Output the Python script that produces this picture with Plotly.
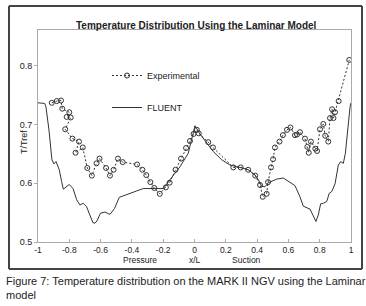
import plotly.graph_objects as go

# Experimental data (x/L, T/Tref)
exp_x = [-0.912, -0.880, -0.853, -0.845, -0.800, -0.817, -0.791, -0.826, -0.780, -0.738,
         -0.760, -0.714, -0.685, -0.656, -0.626, -0.607, -0.565, -0.540, -0.517, -0.489,
         -0.459, -0.367, -0.333, -0.308, -0.282, -0.257, -0.222, -0.183, -0.159, -0.121,
         -0.086, -0.054, -0.029, -0.006, 0.015, 0.027, 0.088, 0.118, 0.248, 0.295,
         0.343, 0.388, 0.419, 0.436, 0.461, 0.470, 0.489, 0.502, 0.514, 0.543,
         0.565, 0.591, 0.613, 0.642, 0.655, 0.674, 0.706, 0.721, 0.730, 0.744,
         0.772, 0.783, 0.802, 0.823, 0.835, 0.855, 0.866, 0.879, 0.888, 0.898,
         0.921, 0.989]
exp_y = [0.737, 0.740, 0.741, 0.727, 0.721, 0.713, 0.712, 0.692, 0.676, 0.671,
         0.652, 0.661, 0.626, 0.613, 0.634, 0.642, 0.626, 0.613, 0.623, 0.642,
         0.636, 0.632, 0.623, 0.614, 0.602, 0.592, 0.582, 0.593, 0.601, 0.623,
         0.642, 0.660, 0.672, 0.684, 0.691, 0.685, 0.670, 0.661, 0.627, 0.627,
         0.623, 0.613, 0.597, 0.577, 0.582, 0.602, 0.627, 0.641, 0.661, 0.671,
         0.682, 0.691, 0.695, 0.682, 0.683, 0.687, 0.676, 0.662, 0.652, 0.671,
         0.659, 0.655, 0.692, 0.701, 0.681, 0.671, 0.711, 0.726, 0.711, 0.721,
         0.740, 0.810]

# FLUENT prediction
fl_x = [-1.000, -0.957, -0.949, -0.930, -0.911, -0.898, -0.885, -0.864, -0.849, -0.838,
        -0.800, -0.776, -0.753, -0.732, -0.711, -0.689, -0.672, -0.649, -0.636, -0.623,
        -0.601, -0.572, -0.540, -0.511, -0.481, -0.444, -0.412, -0.369, -0.327, -0.273,
        -0.220, -0.199, -0.157, -0.093, -0.040, 0.003, 0.035, 0.078, 0.120, 0.174,
        0.227, 0.291, 0.344, 0.387, 0.408, 0.429, 0.450, 0.472, 0.525, 0.567,
        0.599, 0.642, 0.674, 0.695, 0.738, 0.764, 0.776, 0.791, 0.806, 0.823,
        0.845, 0.861, 0.877, 0.898, 0.919, 0.934, 0.951, 0.964, 0.981, 0.994, 1.000]
fl_y = [0.737, 0.736, 0.730, 0.691, 0.640, 0.633, 0.637, 0.623, 0.603, 0.590,
        0.598, 0.591, 0.572, 0.563, 0.566, 0.560, 0.548, 0.533, 0.532, 0.536,
        0.549, 0.551, 0.547, 0.557, 0.576, 0.580, 0.583, 0.587, 0.591, 0.591,
        0.590, 0.591, 0.606, 0.628, 0.651, 0.698, 0.684, 0.668, 0.654, 0.640,
        0.631, 0.627, 0.623, 0.614, 0.606, 0.595, 0.594, 0.601, 0.607, 0.609,
        0.604, 0.596, 0.577, 0.561, 0.556, 0.543, 0.535, 0.546, 0.565, 0.566,
        0.569, 0.583, 0.586, 0.599, 0.631, 0.637, 0.634, 0.651, 0.702, 0.730, 0.737]

x_ticks = [-1, -0.8, -0.6, -0.4, -0.2, 0, 0.2, 0.4, 0.6, 0.8, 1]
x_tick_text = ["-1", "-0.8", "-0.6", "-0.4", "-0.2", "0", "0.2", "0.4", "0.6", "0.8", "1"]
y_ticks = [0.5, 0.6, 0.7, 0.8]

title = "Temperature Distribution Using the Laminar Model"
caption = "Figure 7: Temperature distribution on the MARK II NGV using the Laminar<br>model"
y_title = "T/Tref"

FONT = "Liberation Sans, Arial, sans-serif"
INK = "#333333"
TXT = "#222222"

fig = go.Figure()
fig.add_trace(go.Scatter(
    x=exp_x, y=exp_y, mode="lines+markers", name="Experimental",
    legendgroup="a",
    line=dict(color=INK, width=1, dash="2px,2px"),
    marker=dict(symbol="circle-open", size=5, color=INK, line=dict(width=1, color=INK)),
))
fig.add_trace(go.Scatter(
    x=fl_x, y=fl_y, mode="lines", name="FLUENT",
    legendgroup="b",
    line=dict(color=INK, width=1),
))

L, R, T, B = 38, 15, 30, 64
W, H = 366, 306
pw, ph = W - L - R, H - T - B

def px_x(p):
    return (p - L) / pw

def px_y(p):
    return (H - B - p) / ph

fig.update_layout(
    width=W, height=H,
    margin=dict(l=L, r=R, t=T, b=B, pad=0, autoexpand=False),
    paper_bgcolor="white", plot_bgcolor="white",
    font=dict(family=FONT, size=9, color=TXT),
    showlegend=True,
    legend=dict(x=px_x(107), y=px_y(61), xanchor="left", yanchor="top",
                bgcolor="rgba(0,0,0,0)", font=dict(size=9, color=TXT),
                tracegroupgap=13, itemwidth=30),
    xaxis=dict(range=[-1, 1], tickvals=x_ticks, ticktext=x_tick_text,
               showgrid=False, zeroline=False, showline=True, mirror=True,
               linecolor="#aaaaaa", linewidth=1, ticks="inside", ticklen=3,
               tickcolor="#aaaaaa", tickfont=dict(size=8.5, color=TXT),
               automargin=False),
    yaxis=dict(range=[0.5, 0.861], tickvals=y_ticks, tickformat=".1f",
               showgrid=False, zeroline=False, showline=True, mirror=True,
               linecolor="#aaaaaa", linewidth=1, ticks="outside", ticklen=3,
               tickcolor="#aaaaaa", tickfont=dict(size=9, color=TXT),
               automargin=False),
)

# outer chart frame (four edges)
fx0, fx1, fy0, fy1 = px_x(9), px_x(362), px_y(269), px_y(6)
for (a, b, c, d) in [(fx0, fy0, fx1, fy0), (fx0, fy1, fx1, fy1),
                     (fx0, fy0, fx0, fy1), (fx1, fy0, fx1, fy1)]:
    fig.add_shape(type="line", xref="paper", yref="paper",
                  x0=a, y0=b, x1=c, y1=d,
                  line=dict(color="#444444", width=2), layer="above")

fig.add_annotation(text="<b>" + title + "</b>", xref="paper", yref="paper",
                   x=px_x(196), y=px_y(18), showarrow=False,
                   font=dict(size=10, color=TXT))
fig.add_annotation(text=y_title, xref="paper", yref="paper",
                   x=px_x(17), y=px_y(142), showarrow=False, textangle=-90,
                   font=dict(size=9, color=TXT))
for txt, cx in [("Pressure", 122), ("x/L", 195), ("Suction", 262)]:
    fig.add_annotation(text=txt, xref="paper", yref="paper",
                       x=px_x(cx), y=px_y(265.5), showarrow=False, borderpad=0,
                       font=dict(size=8.5, color=TXT))
fig.add_annotation(text=caption, xref="paper", yref="paper",
                   x=px_x(4), y=px_y(273), xanchor="left", yanchor="top",
                   align="left", showarrow=False,
                   font=dict(size=11, color=TXT))

fig.write_html("out.html", config={"displayModeBar": False},
               post_script="document.body.style.margin='0px';")
